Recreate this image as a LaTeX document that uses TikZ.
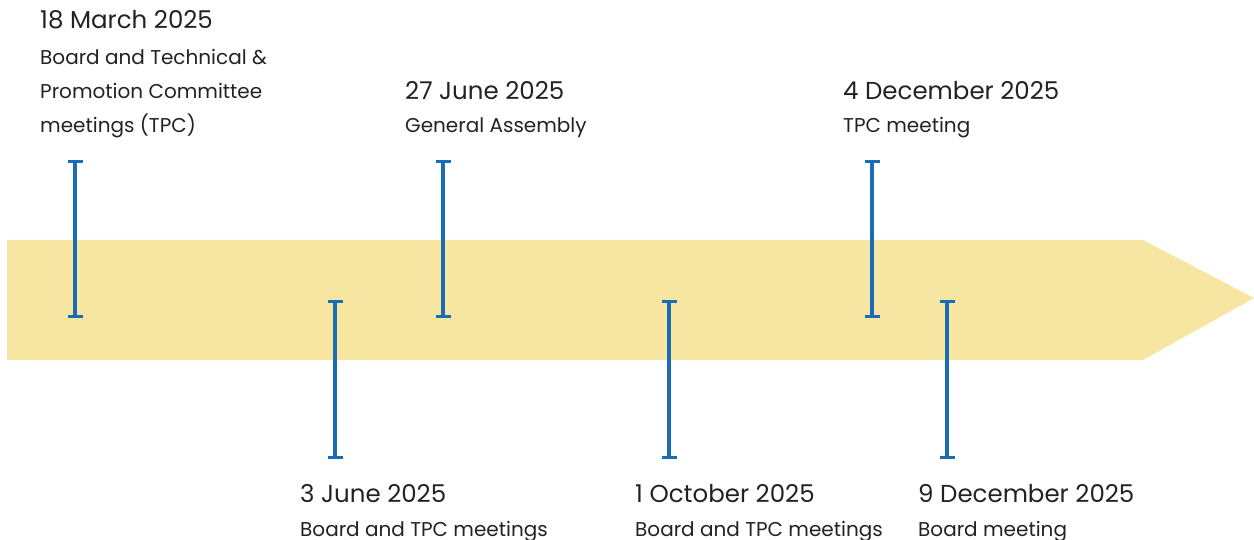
\documentclass[tikz,border=0pt]{standalone}
\usepackage{fontspec}
\setmainfont{Poppins}
\usetikzlibrary{arrows.meta}
\definecolor{band}{HTML}{F7E6A1}
\definecolor{barblue}{HTML}{1A6DB5}
\definecolor{txt}{HTML}{222222}
\tikzset{
  bar/.style={draw=barblue, line width=4pt, {Bar[width=15pt,line width=3pt]}-{Bar[width=15pt,line width=3pt]}, shorten <=-1.5pt, shorten >=-1.5pt},
  datetxt/.style={anchor=base west, inner sep=0pt, text=txt, font=\fontsize{24.5}{28}\selectfont},
  desctxt/.style={anchor=base west, inner sep=0pt, text=txt, font=\fontsize{20}{24}\selectfont},
}
\begin{document}
\begin{tikzpicture}[x=1pt,y=-1pt]
\useasboundingbox (0,0) rectangle (1254,540);
\fill[band] (7,240) -- (1143,240) -- (1254,298) -- (1143,360) -- (7,360) -- cycle;
% markers
\foreach \i/\x/\a/\b in {1/75/162/317, 2/335/302/457, 3/443/162/317, 4/669/302/457, 5/872/162/317, 6/947/302/457}{
  \coordinate (t\i) at (\x,\a);
  \coordinate (b\i) at (\x,\b);
  \draw[bar] (t\i) -- (b\i);
}
% texts
\node[datetxt] (d1) at (40,29) {18 March 2025};
\node[desctxt] (e1a) at (40,65) {Board and Technical \&};
\node[desctxt] (e1b) at (40,99) {Promotion Committee};
\node[desctxt] (e1c) at (40,133) {meetings (TPC)};
\node[datetxt] (d3) at (405,100) {27 June 2025};
\node[desctxt] (e3) at (405,133) {General Assembly};
\node[datetxt] (d5) at (843,100) {4 December 2025};
\node[desctxt] (e5) at (843,133) {TPC meeting};
\node[datetxt] (d2) at (300,502) {3 June 2025};
\node[desctxt] (e2) at (300,536) {Board and TPC meetings};
\node[datetxt] (d4) at (635,502) {1 October 2025};
\node[desctxt] (e4) at (635,536) {Board and TPC meetings};
\node[datetxt] (d6) at (918,502) {9 December 2025};
\node[desctxt] (e6) at (918,536) {Board meeting};
\end{tikzpicture}
\end{document}
